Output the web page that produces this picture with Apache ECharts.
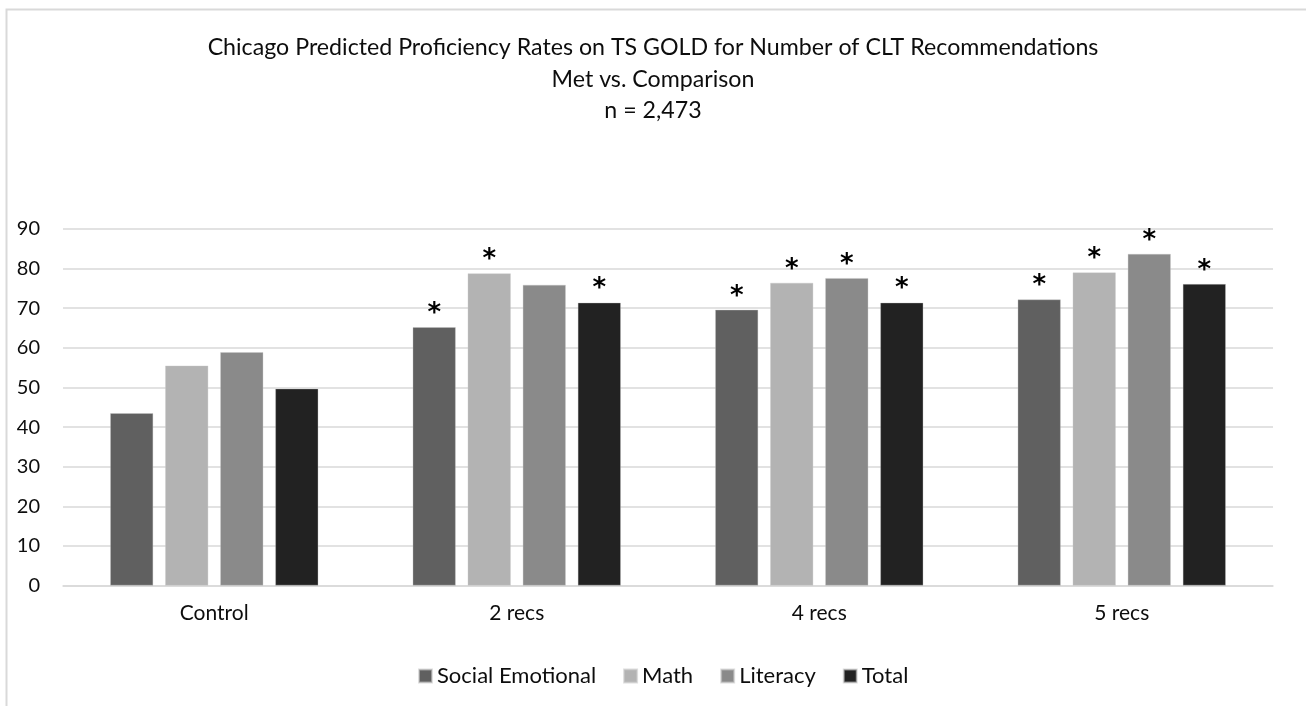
<!DOCTYPE html>
<html>
<head>
<meta charset="utf-8">
<script src="https://cdn.jsdelivr.net/npm/echarts@6/dist/echarts.min.js"></script>
<style>
html,body{margin:0;padding:0;background:#fff;}
#chart{width:1306px;height:706px;}
</style>
</head>
<body>
<div id="chart"></div>
<script>
const categories = ['Control', '2 recs', '4 recs', '5 recs'];
const seriesNames = ['Social Emotional', 'Math', 'Literacy', 'Total'];
const socialEmotional = [43.5, 65.2, 69.6, 72.2];
const math = [55.5, 78.8, 76.4, 79.0];
const literacy = [58.9, 75.9, 77.6, 83.7];
const total = [49.7, 71.4, 71.4, 76.1];
// significance markers (asterisks) per series per category
const sigSocialEmotional = [false, true, true, true];
const sigMath = [false, true, true, true];
const sigLiteracy = [false, false, true, true];
const sigTotal = [false, true, true, true];
const yTicks = [0, 10, 20, 30, 40, 50, 60, 70, 80, 90];
const titleLines = [
  'Chicago Predicted Proficiency Rates on TS GOLD for Number of CLT Recommendations',
  'Met vs. Comparison',
  'n = 2,473'
];

const colors = ['#606060', '#b3b3b3', '#8a8a8a', '#222222'];
const FONT = 'Lato';
const TEXT = '#0d0d0d';

function makeSeries(name, data, sig, color) {
  return {
    name: name,
    type: 'bar',
    data: data,
    barWidth: 43,
    barGap: '28%',
    itemStyle: { color: color, borderColor: 'rgba(200,200,200,0.6)', borderWidth: 0.6 },
    label: {
      show: true,
      position: 'top',
      distance: 0,
      fontFamily: 'DejaVu Sans',
      fontWeight: 'bold',
      fontSize: 26,
      color: '#000',
      formatter: function (p) { return sig[p.dataIndex] ? '*' : ''; }
    }
  };
}

const titleY = [48, 80, 111];
const graphics = [{
  type: 'rect',
  shape: { x: 6.5, y: 9.5, width: 1500, height: 900 },
  style: { fill: 'none', stroke: '#d9d9d9', lineWidth: 2 },
  silent: true
}];
titleLines.forEach(function (t, i) {
  graphics.push({
    type: 'text',
    x: 653,
    y: titleY[i],
    silent: true,
    style: {
      text: t,
      fontFamily: FONT,
      fontSize: 23.2,
      fill: TEXT,
      align: 'center',
      verticalAlign: 'middle'
    }
  });
});

const chart = echarts.init(document.getElementById('chart'));
chart.setOption({
  animation: false,
  backgroundColor: '#fff',
  graphic: graphics,
  legend: {
    data: seriesNames,
    bottom: 14,
    left: 413,
    itemWidth: 13,
    itemHeight: 13,
    itemGap: 27,
    icon: 'rect',
    textStyle: { fontFamily: FONT, fontSize: 22, color: TEXT }
  },
  grid: { left: 63, right: 33, top: 229, bottom: 120.5, containLabel: false },
  xAxis: {
    type: 'category',
    data: categories,
    axisLine: { show: true, lineStyle: { color: '#d9d9d9', width: 1.5 } },
    axisTick: { show: false },
    axisLabel: { fontFamily: FONT, fontSize: 21, color: TEXT, margin: 17 }
  },
  yAxis: {
    type: 'value',
    min: 0,
    max: 90,
    interval: 10,
    axisLine: { show: false },
    axisTick: { show: false },
    splitLine: { lineStyle: { color: '#d9d9d9', width: 1.5 } },
    axisLabel: {
      fontFamily: FONT, fontSize: 20, color: TEXT, margin: 23,
      formatter: function (v) { return yTicks.indexOf(v) >= 0 ? String(v) : ''; }
    }
  },
  series: [
    makeSeries(seriesNames[0], socialEmotional, sigSocialEmotional, colors[0]),
    makeSeries(seriesNames[1], math, sigMath, colors[1]),
    makeSeries(seriesNames[2], literacy, sigLiteracy, colors[2]),
    makeSeries(seriesNames[3], total, sigTotal, colors[3])
  ]
});
</script>
</body>
</html>
